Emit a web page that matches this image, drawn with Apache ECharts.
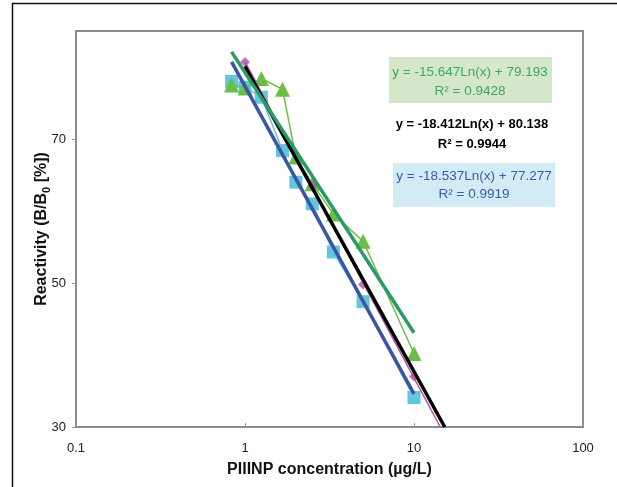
<!DOCTYPE html>
<html>
<head>
<meta charset="utf-8">
<script src="https://cdn.jsdelivr.net/npm/echarts@6/dist/echarts.min.js"></script>
<style>
  html, body { margin: 0; padding: 0; background: #fff; }
  #root { width: 617px; height: 487px; }
</style>
</head>
<body>
<div id="root"></div>
<script>
// concentrations (ug/L) used for the dilution points
const conc = [0.833, 1, 1.25, 1.667, 2, 2.5, 3.333, 5, 10];
const squareVals = [78.0, 77.2, 75.8, 68.4, 64.0, 61.0, 54.3, 47.4, 34.1];
const triangleVals = [77.5, 77.1, 78.4, 76.9, 67.5, 63.8, 59.6, 55.8, 40.2];
const diamondConc = [1, 2.5, 5, 10];
const diamondVals = [80.7, 63.5, 49.8, 37.0];

// trendline end points
const greenTrendX = [0.833, 10];
const greenTrendY = [82.1, 43.1];
const blueTrendX = [0.833, 10];
const blueTrendY = [80.7, 34.6];
const blackTrendX = [1, 15.2];
const blackTrendY = [80.1, 30];
const pinkTrendX = [1, 14.3];
const pinkTrendY = [80.7, 30];

const xTicks = ['0.1', '1', '10', '100'];
const yTicks = [30, 50, 70];

function pairs(xs, ys) {
  return xs.map((x, i) => [x, ys[i]]);
}

let root = document.getElementById('root');
let myChart = echarts.init(root);

let option = {
  animation: false,
  grid: {
    left: 76, right: 34, top: 31, bottom: 60,
    show: true, borderColor: '#8c8c8c', borderWidth: 2
  },
  xAxis: {
    type: 'log',
    logBase: 10,
    min: 0.1,
    max: 100,
    name: 'PIIINP concentration (µg/L)',
    nameLocation: 'middle',
    nameGap: 35,
    nameTextStyle: { fontFamily: 'Liberation Sans', fontWeight: 'bold', fontSize: 16, color: '#111' },
    axisLine: { lineStyle: { color: '#8c8c8c', width: 2 } },
    axisTick: { inside: true, length: 4, lineStyle: { color: '#999' } },
    minorTick: { show: false },
    splitLine: { show: false },
    axisLabel: {
      margin: 15, fontFamily: 'Liberation Sans', fontSize: 13, color: '#222',
      formatter: v => xTicks.find(t => Number(t) === Number(v.toPrecision(3))) || ''
    }
  },
  yAxis: {
    type: 'value',
    min: yTicks[0],
    max: 85,
    interval: yTicks[1] - yTicks[0],
    name: '{b|Reactivity (B/B}{s|0}{b| [%])}',
    nameLocation: 'middle',
    nameGap: 24,
    nameMoveOverlap: false,
    nameTextStyle: {
      rich: {
        b: { fontFamily: 'Liberation Sans', fontWeight: 'bold', fontSize: 16, color: '#111', lineHeight: 20 },
        s: { fontFamily: 'Liberation Sans', fontWeight: 'bold', fontSize: 11, color: '#111', lineHeight: 20, verticalAlign: 'bottom' }
      }
    },
    axisLine: { show: true, lineStyle: { color: '#8c8c8c', width: 2 } },
    axisTick: { show: true, length: 4, lineStyle: { color: '#999' } },
    splitLine: { show: false },
    axisLabel: {
      margin: 10, fontFamily: 'Liberation Sans', fontSize: 13, color: '#222',
      showMaxLabel: false,
      formatter: v => (yTicks.indexOf(v) >= 0 ? String(v) : '')
    }
  },
  graphic: [
    { type: 'rect', silent: true, z: -1, shape: { x: 12.5, y: 3.5, width: 700, height: 600 },
      style: { fill: 'none', stroke: '#111', lineWidth: 1.5 } },
    { type: 'rect', shape: { x: 389, y: 57, width: 163, height: 46 }, style: { fill: '#d4e8c9' }, z: 1 },
    { type: 'text', x: 470, y: 72, z: 2, style: { text: 'y = -15.647Ln(x) + 79.193', fill: '#3ea65d', font: '13.5px "Liberation Sans"', align: 'center', verticalAlign: 'middle' } },
    { type: 'text', x: 470, y: 91, z: 2, style: { text: 'R² = 0.9428', fill: '#3ea65d', font: '13.5px "Liberation Sans"', align: 'center', verticalAlign: 'middle' } },
    { type: 'text', x: 472, y: 124, z: 2, style: { text: 'y = -18.412Ln(x) + 80.138', fill: '#000', font: 'bold 13px "Liberation Sans"', align: 'center', verticalAlign: 'middle' } },
    { type: 'text', x: 472, y: 144, z: 2, style: { text: 'R² = 0.9944', fill: '#000', font: 'bold 13px "Liberation Sans"', align: 'center', verticalAlign: 'middle' } },
    { type: 'rect', shape: { x: 393, y: 163, width: 162, height: 44 }, style: { fill: '#d3ebf4' }, z: 1 },
    { type: 'text', x: 474, y: 176, z: 2, style: { text: 'y = -18.537Ln(x) + 77.277', fill: '#3b5aab', font: '13.5px "Liberation Sans"', align: 'center', verticalAlign: 'middle' } },
    { type: 'text', x: 474, y: 194, z: 2, style: { text: 'R² = 0.9919', fill: '#3b5aab', font: '13.5px "Liberation Sans"', align: 'center', verticalAlign: 'middle' } }
  ],
  series: [
    {
      type: 'line', data: pairs(conc, squareVals),
      symbol: 'rect', symbolSize: 13, showSymbol: true,
      itemStyle: { color: '#62c6dc' },
      lineStyle: { color: '#62c6dc', width: 1.5 }, z: 2
    },
    {
      type: 'line', data: pairs(conc, triangleVals),
      symbol: 'triangle', symbolSize: 15,
      itemStyle: { color: '#6bbf46' },
      lineStyle: { color: '#6bbf46', width: 1.5 }, z: 3
    },
    {
      type: 'scatter', data: pairs(diamondConc, diamondVals),
      symbol: 'diamond', symbolSize: 10,
      itemStyle: { color: '#b64ea5' }, z: 3
    },
    {
      type: 'line', data: pairs(pinkTrendX, pinkTrendY), symbol: 'none',
      lineStyle: { color: '#b64ea5', width: 1.5 }, z: 4
    },
    {
      type: 'line', data: pairs(blueTrendX, blueTrendY), symbol: 'none',
      lineStyle: { color: '#3a55a6', width: 3.5 }, z: 5
    },
    {
      type: 'line', data: pairs(blackTrendX, blackTrendY), symbol: 'none',
      lineStyle: { color: '#000', width: 3.5 }, z: 6
    },
    {
      type: 'line', data: pairs(greenTrendX, greenTrendY), symbol: 'none',
      lineStyle: { color: '#2a9a66', width: 3.5 }, z: 7
    }
  ]
};
myChart.setOption(option);
</script>
</body>
</html>
